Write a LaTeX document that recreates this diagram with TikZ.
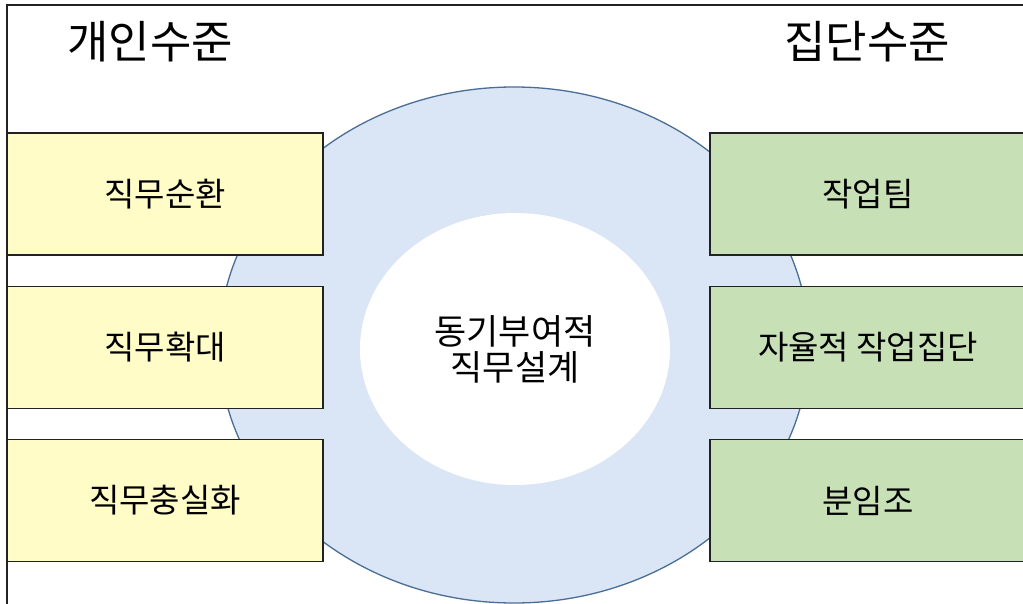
\documentclass[tikz,border=0pt]{standalone}
\usepackage{fontspec}
\setmainfont{Noto Sans CJK KR}
\usetikzlibrary{shapes.geometric}
\definecolor{boxyellow}{HTML}{FFFCC8}
\definecolor{boxgreen}{HTML}{C8E0B6}
\definecolor{ringblue}{HTML}{DAE6F5}
\definecolor{ringline}{HTML}{4A6E96}
\definecolor{edge}{HTML}{222222}
\tikzset{
  titletext/.style={font=\fontsize{45}{48}\selectfont, text=black, inner sep=0pt},
  itembox/.style={rectangle, draw=edge, line width=1.6pt, minimum width=316pt, minimum height=122pt, inner sep=0pt, font=\fontsize{33}{36}\selectfont, text=black},
  leftbox/.style={itembox, fill=boxyellow},
  rightbox/.style={itembox, fill=boxgreen},
  ring/.style={ellipse, draw=ringline, line width=1.3pt, fill=ringblue, minimum width=590pt, minimum height=516pt, inner sep=0pt},
  core/.style={ellipse, fill=white, minimum width=310pt, minimum height=272pt, inner sep=0pt, align=center, font=\fontsize{35}{36}\selectfont, text=black},
  frame/.style={draw=edge, line width=1.5pt}
}
\begin{document}
\begin{tikzpicture}[x=1pt,y=-1pt]
\useasboundingbox (0,0) rectangle (1023,604);
\clip (0,0) rectangle (1023,604);
\fill[white] (0,0) rectangle (1023,604);
\draw[frame] (7,5) rectangle (1040,620);
\node[ring] (ringnode) at (514,345) {};
\node[core] (corenode) at (515,349) {동기부여적\\직무설계};
\node[titletext] (lefttitle) at (150,42) {개인수준};
\node[titletext] (righttitle) at (867,42) {집단수준};
\node[leftbox] (l1) at (165,194) {직무순환};
\node[leftbox] (l2) at (165,347.5) {직무확대};
\node[leftbox] (l3) at (165,500.5) {직무충실화};
\node[rightbox] (r1) at (868,194) {작업팀};
\node[rightbox] (r2) at (868,347.5) {자율적 작업집단};
\node[rightbox] (r3) at (868,500.5) {분임조};
\end{tikzpicture}
\end{document}
